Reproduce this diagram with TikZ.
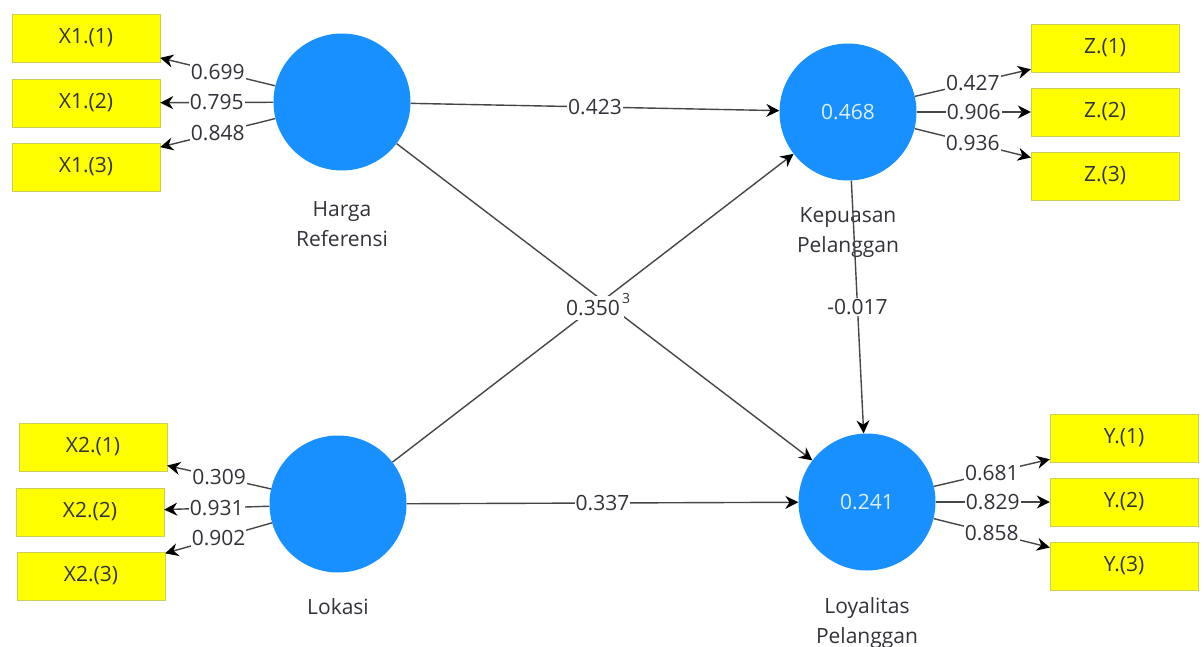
\documentclass[tikz,border=0pt]{standalone}
\usepackage{fontspec}
\setmainfont{Open Sans}
\usetikzlibrary{arrows.meta, positioning}
\definecolor{lvblue}{RGB}{24,144,255}
\definecolor{itemyellow}{RGB}{255,255,0}
\definecolor{itemedge}{RGB}{205,205,90}
\definecolor{linkgray}{RGB}{70,70,70}
\definecolor{txtgray}{RGB}{50,50,58}
\tikzset{
  latent/.style={circle, fill=lvblue, minimum size=137pt, inner sep=0pt, text=white!85!lvblue},
  item/.style={draw=itemedge, fill=itemyellow, minimum width=148pt, minimum height=48pt, inner sep=0pt, text=txtgray},
  lvname/.style={align=center, text=txtgray, inner sep=0pt},
  link/.style={draw=linkgray, line width=1.4pt, -{Stealth[length=13pt,width=13pt,black]}},
  coef/.style={fill=white, inner sep=1pt, text=txtgray},
}
\begin{document}
\begin{tikzpicture}[x=1pt, y=-1pt, font=\fontsize{21}{30}\selectfont]
\useasboundingbox (0,0) rectangle (1204,646);

\node (harga) [latent] at (342,102) {};
\node (kepuasan) [latent] at (848,112) {0.468};
\node (lokasi) [latent] at (338,504) {};
\node (loyalitas) [latent] at (867,502) {0.241};

\node (harganame) [lvname, below=31pt of harga] {Harga\\Referensi};
\node (kepuasanname) [lvname, below=27pt of kepuasan] {Kepuasan\\Pelanggan};
\node (lokasiname) [lvname, below=26pt of lokasi] {Lokasi};
\node (loyalitasname) [lvname, below=27pt of loyalitas] {Loyalitas\\Pelanggan};

\node (x11) [item] at (86,38) {X1.(1)};
\node (x12) [item] at (86,103) {X1.(2)};
\node (x13) [item] at (86,167) {X1.(3)};
\node (z1) [item] at (1105,48) {Z.(1)};
\node (z2) [item] at (1105,112) {Z.(2)};
\node (z3) [item] at (1105,176) {Z.(3)};
\node (x21) [item] at (93,447) {X2.(1)};
\node (x22) [item] at (90,512) {X2.(2)};
\node (x23) [item] at (91,576) {X2.(3)};
\node (y1) [item] at (1124,438) {Y.(1)};
\node (y2) [item] at (1124,502) {Y.(2)};
\node (y3) [item] at (1124,566) {Y.(3)};

\draw[link] (harga) -- (x11.-15) node[coef, midway] {0.699};
\draw[link] (harga) -- (x12) node[coef, midway] {0.795};
\draw[link] (harga) -- (x13.15) node[coef, midway] {0.848};
\draw[link] (kepuasan) -- (z1.196) node[coef, midway] {0.427};
\draw[link] (kepuasan) -- (z2) node[coef, midway] {0.906};
\draw[link] (kepuasan) -- (z3.166) node[coef, midway] {0.936};
\draw[link] (lokasi) -- (x21.-14) node[coef, midway] {0.309};
\draw[link] (lokasi) -- (x22) node[coef, midway] {0.931};
\draw[link] (lokasi) -- (x23.17) node[coef, midway] {0.902};
\draw[link] (loyalitas) -- (y1.196) node[coef, midway] {0.681};
\draw[link] (loyalitas) -- (y2) node[coef, midway] {0.829};
\draw[link] (loyalitas) -- (y3.166) node[coef, midway] {0.858};

\draw[link] (harga) -- (kepuasan) node[coef, midway] {0.423};
\draw[link] (harga) -- (loyalitas);
\draw[link] (lokasi) -- (kepuasan) node[coef, midway, inner xsep=4pt, inner ysep=4pt] {0.350};
\draw[link] (lokasi) -- (loyalitas) node[coef, midway] {0.337};
\draw[link] (kepuasan) -- (loyalitas) node[coef, midway] {-0.017};
\node (hidden) [coef, font=\fontsize{14}{16}\selectfont, inner sep=3pt] at (626,298) {3};
\end{tikzpicture}
\end{document}
